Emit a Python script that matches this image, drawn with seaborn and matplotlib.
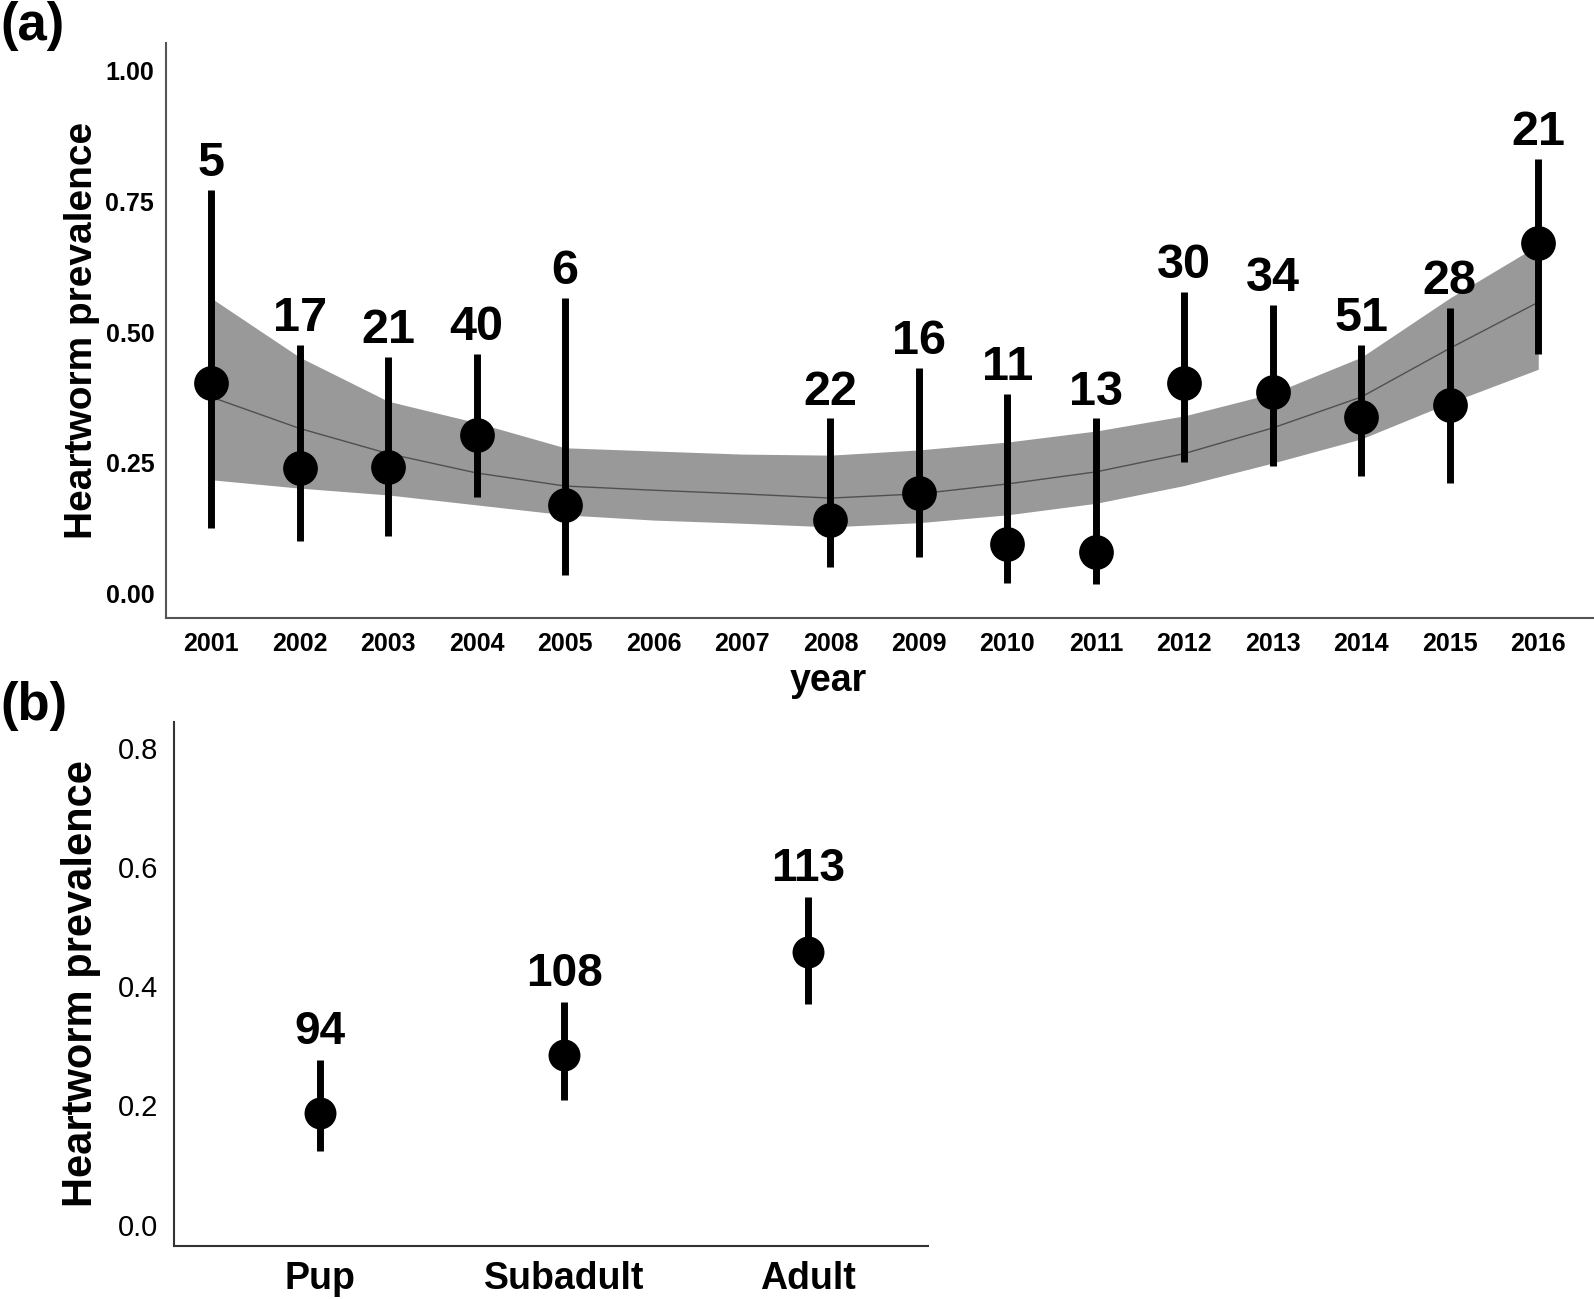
import seaborn as sns
import matplotlib.pyplot as plt
import pandas as pd

# Painel (a): prevalencia por ano
anos = [2001, 2002, 2003, 2004, 2005, 2008, 2009, 2010, 2011, 2012, 2013, 2014, 2015, 2016]
prevalencia = [0.403, 0.240, 0.243, 0.303, 0.170, 0.141, 0.193, 0.095, 0.080, 0.403, 0.386, 0.337, 0.361, 0.670]
ic_inferior = [0.126, 0.101, 0.111, 0.185, 0.036, 0.052, 0.071, 0.021, 0.019, 0.252, 0.244, 0.225, 0.212, 0.458]
ic_superior = [0.771, 0.475, 0.453, 0.458, 0.565, 0.335, 0.431, 0.381, 0.335, 0.576, 0.552, 0.475, 0.546, 0.830]
n_amostras = [5, 17, 21, 40, 6, 22, 16, 11, 13, 30, 34, 51, 28, 21]

# Curva ajustada e banda de confianca (lidas em cada ano)
anos_ajuste = list(range(2001, 2017))
ajuste = [0.376, 0.316, 0.268, 0.231, 0.206, 0.198, 0.191, 0.183, 0.191, 0.210, 0.233, 0.268, 0.317, 0.376, 0.469, 0.557]
ajuste_inf = [0.218, 0.202, 0.189, 0.170, 0.151, 0.141, 0.135, 0.128, 0.136, 0.151, 0.173, 0.207, 0.250, 0.296, 0.365, 0.429]
ajuste_sup = [0.565, 0.452, 0.368, 0.327, 0.279, 0.273, 0.267, 0.265, 0.275, 0.290, 0.311, 0.340, 0.383, 0.452, 0.565, 0.666]

# Painel (b): prevalencia por idade
idades = ['Pup', 'Subadult', 'Adult']
prev_idade = [0.187, 0.285, 0.457]
idade_inf = [0.123, 0.209, 0.370]
idade_sup = [0.276, 0.373, 0.549]
n_idade = [94, 108, 113]

sns.set_style('white')
plt.rcParams['font.family'] = ['Liberation Sans', 'DejaVu Sans']
plt.rcParams['text.color'] = 'black'
plt.rcParams['axes.labelcolor'] = 'black'
plt.rcParams['xtick.color'] = 'black'
plt.rcParams['ytick.color'] = 'black'

df_a = pd.DataFrame({'ano': anos, 'prev': prevalencia})
df_fit = pd.DataFrame({'ano': anos_ajuste, 'fit': ajuste})
df_b = pd.DataFrame({'idade': idades, 'prev': prev_idade})

fig = plt.figure(figsize=(15.94, 12.99), dpi=100)
ax1 = fig.add_axes([166 / 1594, 1 - 618 / 1299, (1594 - 166) / 1594, (618 - 43) / 1299])
ax2 = fig.add_axes([174 / 1594, 1 - 1246 / 1299, (928 - 174) / 1594, (1246 - 722) / 1299])

# ---- painel (a)
ax1.fill_between(anos_ajuste, ajuste_inf, ajuste_sup, color='#999999', linewidth=0, zorder=1)
sns.lineplot(data=df_fit, x='ano', y='fit', ax=ax1, color='#505050', linewidth=1.0, zorder=2)
ax1.vlines(anos, ic_inferior, ic_superior, color='black', linewidth=5, zorder=3)
sns.scatterplot(data=df_a, x='ano', y='prev', ax=ax1, color='black', s=625,
                edgecolor='black', linewidth=0, zorder=4)
for a, sup, n in zip(anos, ic_superior, n_amostras):
    ax1.annotate(str(n), (a, sup), xytext=(0, 10), textcoords='offset points',
                 ha='center', va='baseline', fontsize=35, fontweight='bold', color='black')

ax1.set_xlim(2000.49, 2016.63)
ax1.set_ylim(-0.046, 1.052)
ax1.set_xticks(anos_ajuste)
ax1.set_xticklabels([str(a) for a in anos_ajuste], fontsize=18, fontweight='bold')
ax1.set_yticks([0, 0.25, 0.5, 0.75, 1.0])
ax1.set_yticklabels(['0.00', '0.25', '0.50', '0.75', '1.00'], fontsize=18, fontweight='bold')
ax1.tick_params(axis='x', length=0, pad=10)
ax1.tick_params(axis='y', length=0, pad=8.5)
ax1.set_xlabel('year', fontsize=27, fontweight='bold')
ax1.xaxis.set_label_coords(0.464, -0.078)
ax1.set_ylabel('Heartworm prevalence', fontsize=28, fontweight='bold', labelpad=4)
for lado in ['top', 'right']:
    ax1.spines[lado].set_visible(False)
for lado in ['left', 'bottom']:
    ax1.spines[lado].set_color('#555555')
    ax1.spines[lado].set_linewidth(1.5)

# ---- painel (b)
ax2.vlines(idades, idade_inf, idade_sup, color='black', linewidth=5, zorder=3)
sns.scatterplot(data=df_b, x='idade', y='prev', ax=ax2, color='black', s=529,
                edgecolor='black', linewidth=0, zorder=4)
for i, (sup, n) in enumerate(zip(idade_sup, n_idade)):
    ax2.annotate(str(n), (i, sup), xytext=(0, 11.5), textcoords='offset points',
                 ha='center', va='baseline', fontsize=33, fontweight='bold', color='black')

ax2.set_xlim(-0.598, 2.49)
ax2.set_ylim(-0.036, 0.843)
ax2.set_yticks([0, 0.2, 0.4, 0.6, 0.8])
ax2.set_yticklabels(['0.0', '0.2', '0.4', '0.6', '0.8'], fontsize=21)
ax2.set_xticks(range(len(idades)))
ax2.set_xticklabels(idades, fontsize=27, fontweight='bold')
ax2.tick_params(axis='x', length=0, pad=11)
ax2.tick_params(axis='y', length=0, pad=11.5)
ax2.set_xlabel('')
ax2.set_ylabel('Heartworm prevalence', fontsize=30, fontweight='bold', labelpad=12)
for lado in ['top', 'right']:
    ax2.spines[lado].set_visible(False)
for lado in ['left', 'bottom']:
    ax2.spines[lado].set_color('#333333')
    ax2.spines[lado].set_linewidth(1.5)

fig.text(0.0, 1 - 40 / 1299, '(a)', fontsize=38, fontweight='bold', va='baseline', ha='left')
fig.text(0.0, 1 - 720 / 1299, '(b)', fontsize=38, fontweight='bold', va='baseline', ha='left')

fig.savefig('out.png', dpi=100)
